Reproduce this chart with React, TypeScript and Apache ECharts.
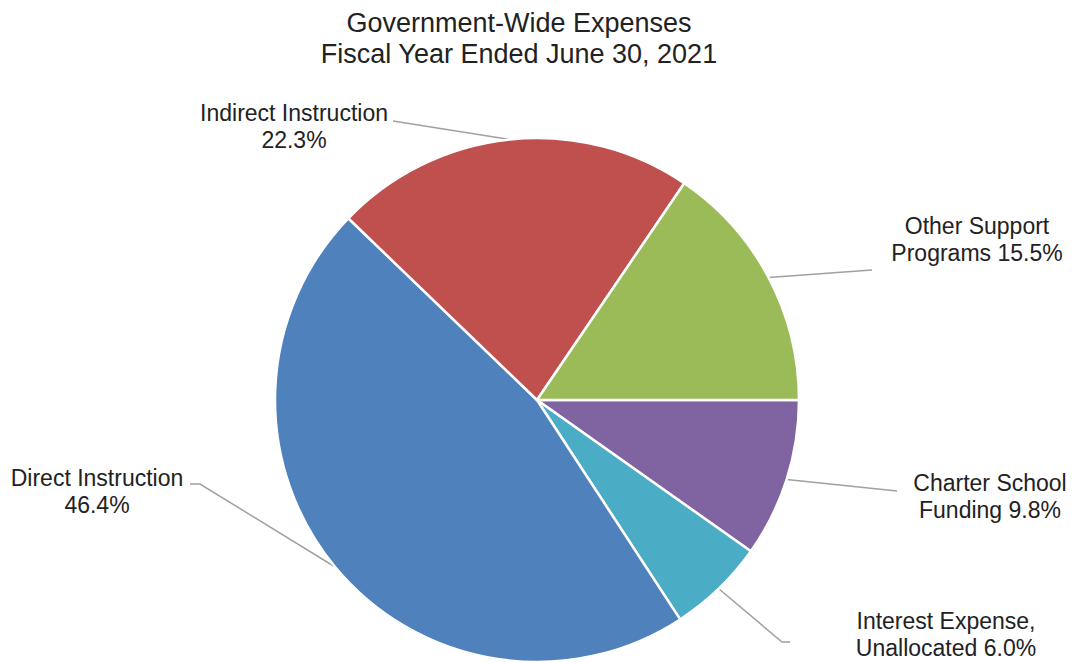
import React, { useEffect, useRef } from "react";
import * as echarts from "echarts";

const TITLE_LINES = ["Government-Wide Expenses", "Fiscal Year Ended June 30, 2021"];
const CATEGORIES = [
  "Charter School Funding",
  "Interest Expense, Unallocated",
  "Direct Instruction",
  "Indirect Instruction",
  "Other Support Programs",
];
const VALUES = [9.8, 6.0, 46.4, 22.3, 15.5];
const LABEL_HEADS = [
  "Charter School\nFunding ",
  "Interest Expense,\nUnallocated ",
  "Direct Instruction\n",
  "Indirect Instruction\n",
  "Other Support\nPrograms ",
];
const COLORS = ["#8064A2", "#4BACC6", "#4F81BD", "#C0504D", "#9BBB59"];

// label layout (positions only, not data)
const CENTER = [537, 400];
const RADIUS = 262;
const LABEL_POS = [
  { x: 990, y: 496, line: [[897, 491]] },
  { x: 946, y: 634, line: [[782, 642], [790, 642]] },
  { x: 97, y: 491, line: [[200, 484], [190, 484]] },
  { x: 294, y: 126, line: [[393, 121]] },
  { x: 977, y: 239, line: [[872, 270]] },
];

export default function App() {
  const ref = useRef<HTMLDivElement>(null);
  useEffect(() => {
    document.body.style.margin = "0";
    const chart = echarts.init(ref.current!, null, { renderer: "svg" });
    const total = VALUES.reduce((a, b) => a + b, 0);
    const mids: number[] = [];
    let acc = 0;
    VALUES.forEach((v) => {
      mids.push(acc + v / 2);
      acc += v;
    });
    chart.setOption({
      animation: false,
      backgroundColor: "#ffffff",
      title: {
        text: TITLE_LINES.join("\n"),
        left: 519,
        top: 7,
        padding: 0,
        textAlign: "center",
        textStyle: {
          fontFamily: "Liberation Sans, Arial, sans-serif",
          fontSize: 27,
          lineHeight: 31,
          fontWeight: "normal",
          color: "#222222",
        },
      },
      series: [
        {
          type: "pie",
          center: CENTER,
          radius: RADIUS,
          startAngle: 0,
          clockwise: true,
          avoidLabelOverlap: false,
          itemStyle: { borderColor: "#ffffff", borderWidth: 2.5 },
          label: {
            show: true,
            position: "outside",
            fontFamily: "Liberation Sans, Arial, sans-serif",
            fontSize: 23,
            lineHeight: 27,
            color: "#222222",
            align: "center",
            formatter: (p: any) => LABEL_HEADS[p.dataIndex] + Number(p.value).toFixed(1) + "%",
          },
          labelLine: {
            show: true,
            length: 20,
            length2: 20,
            lineStyle: { color: "#a0a0a0", width: 1.5 },
          },
          labelLayout: (params: any) => {
            const i = params.dataIndex;
            const lp = LABEL_POS[i];
            let start: number[];
            if (params.labelLinePoints && params.labelLinePoints[0]) {
              start = [params.labelLinePoints[0][0], params.labelLinePoints[0][1]];
            } else {
              const ang = (mids[i] / total) * Math.PI * 2;
              start = [CENTER[0] + RADIUS * Math.cos(ang), CENTER[1] + RADIUS * Math.sin(ang)];
            }
            return {
              x: lp.x,
              y: lp.y,
              align: "center",
              verticalAlign: "middle",
              labelLinePoints: [start, ...lp.line],
            };
          },
          data: CATEGORIES.map((name, i) => ({
            name,
            value: VALUES[i],
            itemStyle: { color: COLORS[i] },
          })),
        },
      ],
    });
    return () => chart.dispose();
  }, []);
  return (
    <div
      ref={ref}
      style={{ position: "absolute", left: 0, top: 0, width: 1074, height: 662 }}
    />
  );
}
